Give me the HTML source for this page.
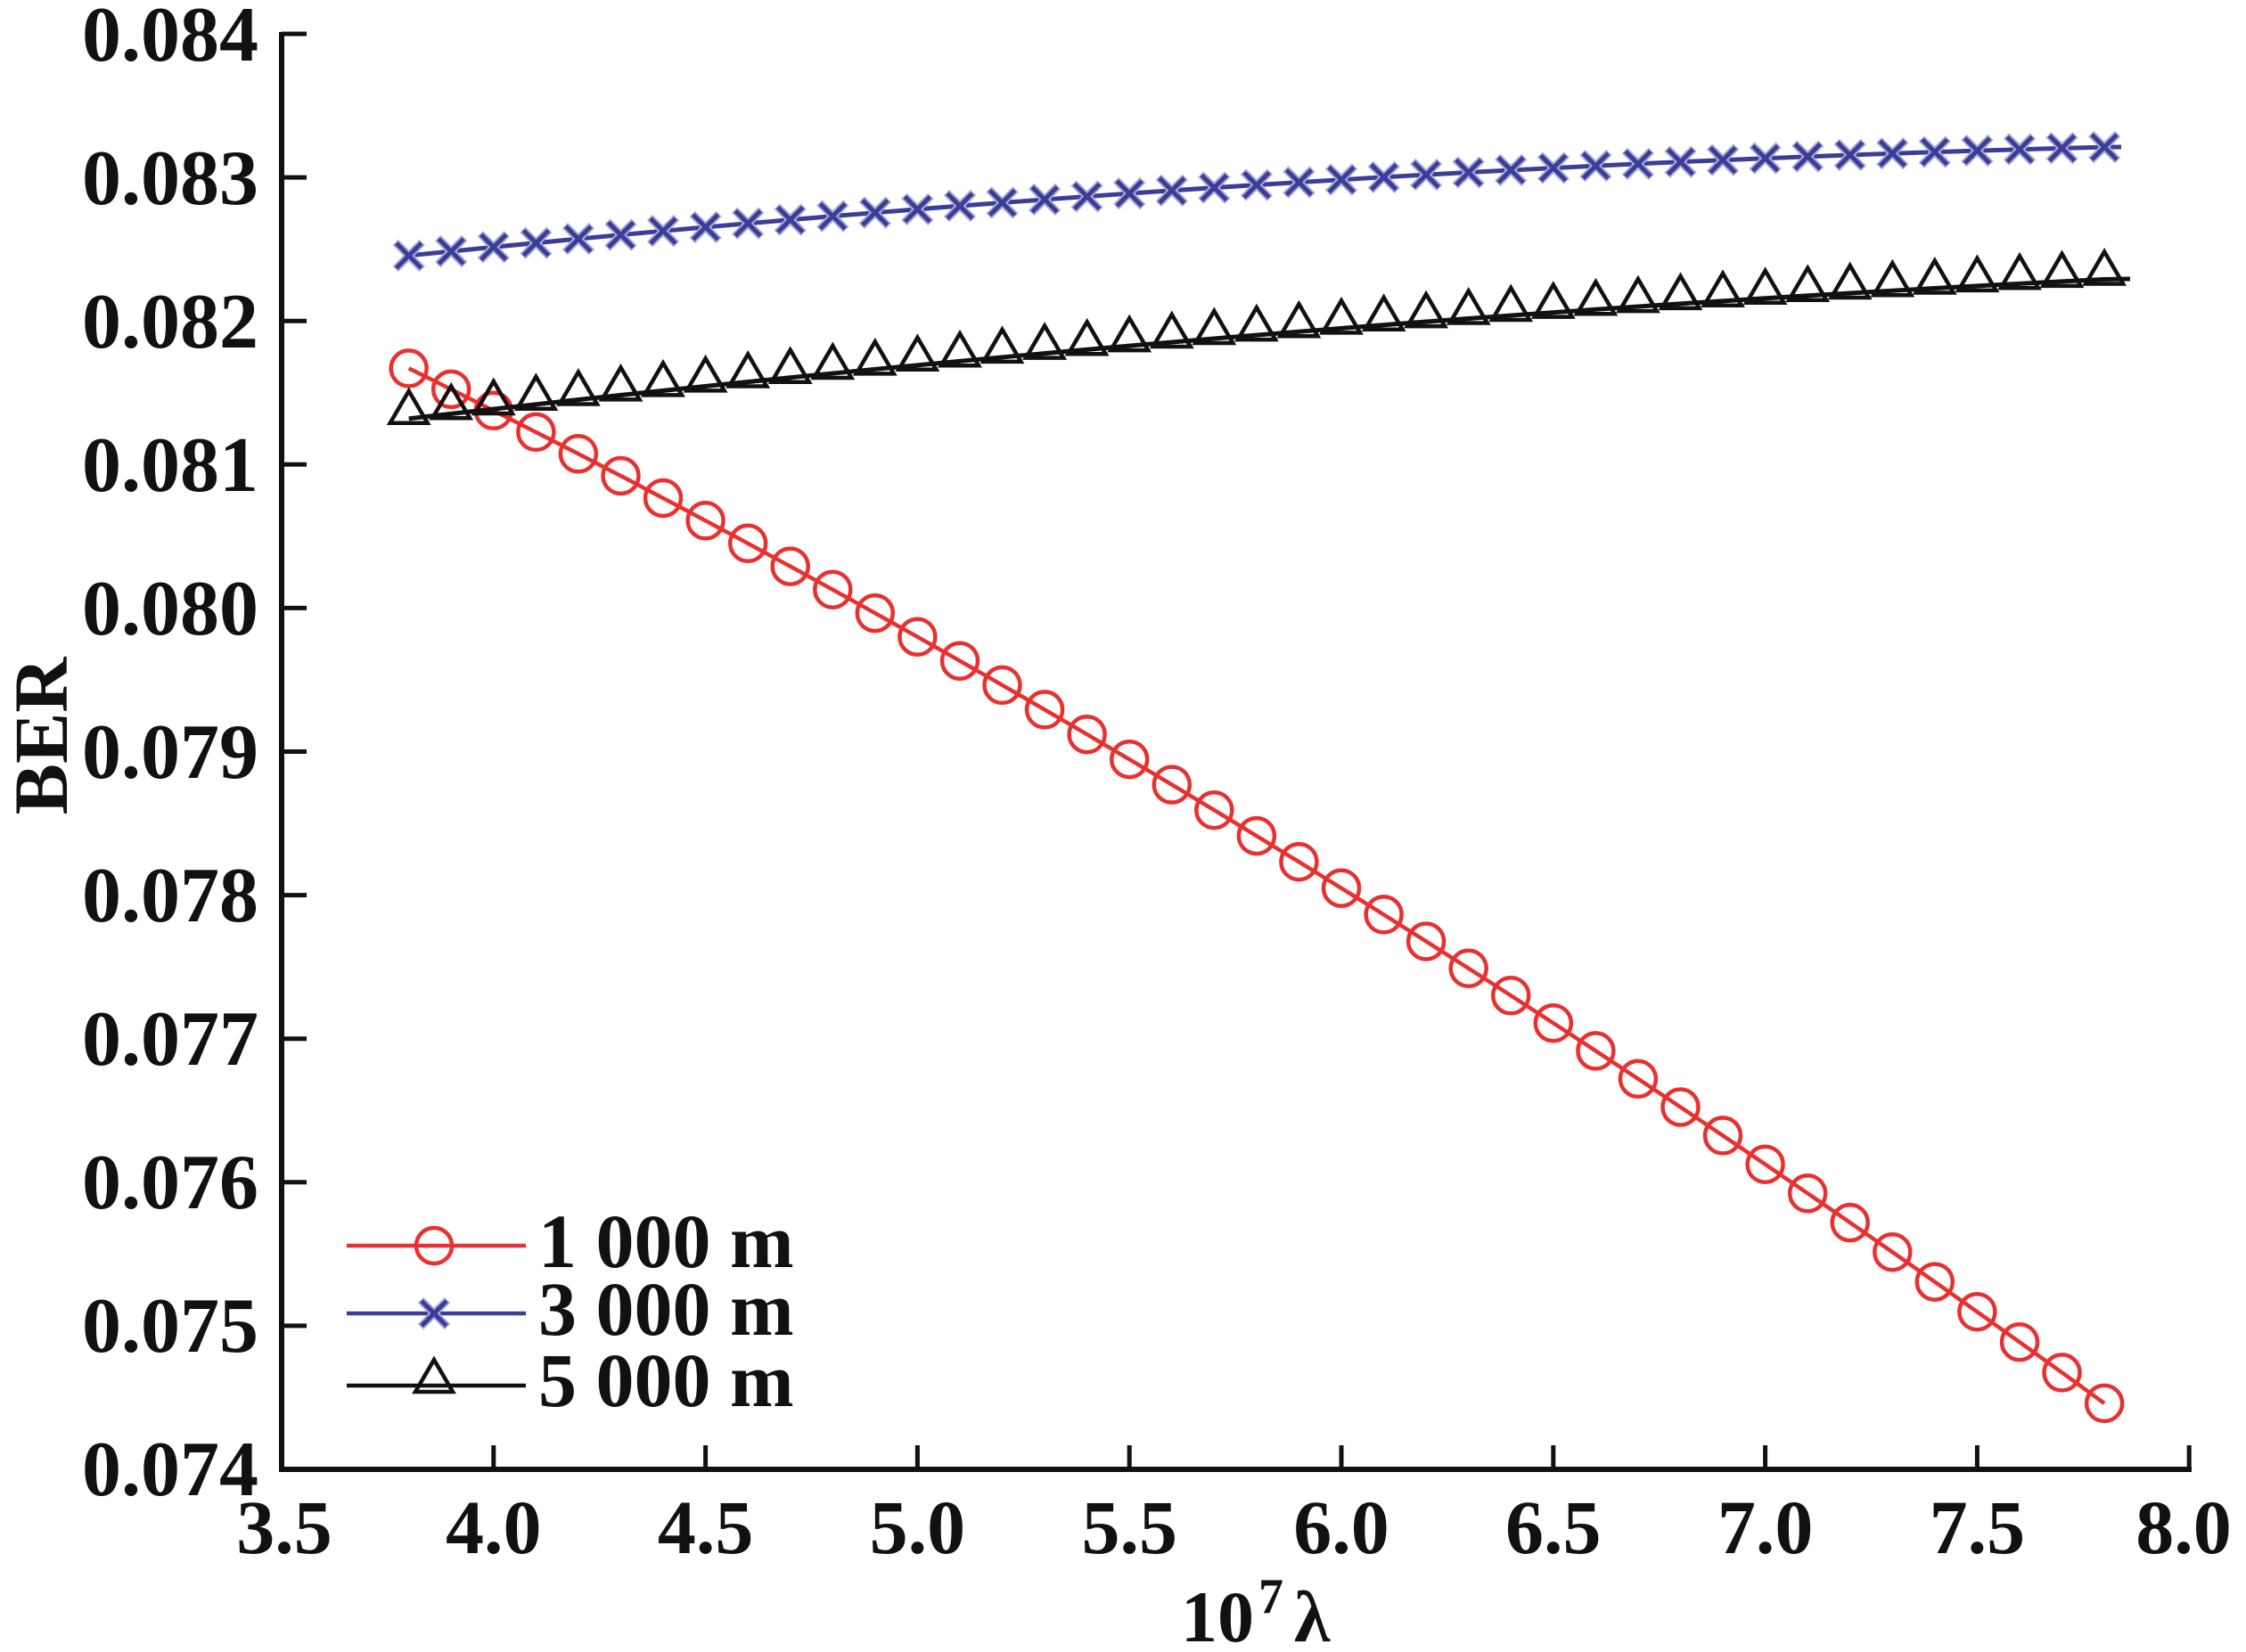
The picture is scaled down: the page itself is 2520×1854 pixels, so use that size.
<!DOCTYPE html>
<html>
<head>
<meta charset="utf-8">
<style>
html,body{margin:0;padding:0;background:#fff;}
svg{display:block;}
.t{font-family:"Liberation Serif","DejaVu Serif",serif;font-weight:bold;font-size:86px;fill:#111;}
.y{font-size:88px;}
</style>
</head>
<body>
<svg width="2520" height="1854" viewBox="0 0 2520 1854" xmlns="http://www.w3.org/2000/svg">
<defs>
<circle id="mc" r="20" fill="none" stroke="#e8312f" stroke-width="4.5"/>
<g id="mx"><path d="M-15,-15L15,15M-15,15L15,-15" stroke="#aaabd8" stroke-width="9" fill="none"/><path d="M-14,-14L14,14M-14,14L14,-14" stroke="#3b3e96" stroke-width="5" fill="none"/></g>
<path id="mt" d="M0,-31L21,5L-21,5Z" fill="none" stroke="#111" stroke-width="4.5"/>
</defs>

<!-- axes -->
<path d="M316,36V1649H2459" fill="none" stroke="#111" stroke-width="6"/>
<g stroke="#111" stroke-width="5">
<path d="M316,38H344M316,199.1H344M316,360.2H344M316,521.3H344M316,682.4H344M316,843.5H344M316,1004.6H344M316,1165.7H344M316,1326.8H344M316,1487.9H344"/>
<path d="M553.8,1649V1622M791.6,1649V1622M1029.4,1649V1622M1267.2,1649V1622M1505,1649V1622M1742.8,1649V1622M1980.6,1649V1622M2218.4,1649V1622M2456.2,1649V1622"/>
</g>

<!-- y tick labels -->
<g class="t y" text-anchor="end">
<text x="290" y="68">0.084</text>
<text x="290" y="229">0.083</text>
<text x="290" y="390">0.082</text>
<text x="290" y="551">0.081</text>
<text x="290" y="712">0.080</text>
<text x="290" y="873">0.079</text>
<text x="290" y="1034">0.078</text>
<text x="290" y="1195">0.077</text>
<text x="290" y="1356">0.076</text>
<text x="290" y="1517">0.075</text>
<text x="290" y="1678">0.074</text>
</g>

<!-- x tick labels -->
<g class="t" text-anchor="middle">
<text x="319" y="1743">3.5</text>
<text x="553.8" y="1743">4.0</text>
<text x="791.6" y="1743">4.5</text>
<text x="1029.4" y="1743">5.0</text>
<text x="1267.2" y="1743">5.5</text>
<text x="1505" y="1743">6.0</text>
<text x="1742.8" y="1743">6.5</text>
<text x="1980.6" y="1743">7.0</text>
<text x="2218.4" y="1743">7.5</text>
<text x="2450" y="1743">8.0</text>
</g>

<!-- axis titles -->
<text class="t" text-anchor="middle" transform="translate(75,826) rotate(-90)">BER</text>
<text class="t" x="1325" y="1842" style="font-size:82px">10</text>
<text class="t" x="1412" y="1810" style="font-size:56px">7</text>
<text class="t" x="1452" y="1842" style="font-size:82px">λ</text>

<!-- red series 1000 m -->
<path d="M458.7,413.4 Q1409.9,882.0 2361.1,1574.9" fill="none" stroke="#e8312f" stroke-width="4.5"/>
<g>
<use href="#mc" x="458.7" y="413.4"/><use href="#mc" x="506.2" y="436.9"/><use href="#mc" x="553.8" y="460.8"/><use href="#mc" x="601.4" y="484.9"/><use href="#mc" x="648.9" y="509.3"/><use href="#mc" x="696.5" y="534.0"/><use href="#mc" x="744.0" y="559.0"/><use href="#mc" x="791.6" y="584.3"/><use href="#mc" x="839.2" y="609.8"/><use href="#mc" x="886.7" y="635.6"/><use href="#mc" x="934.3" y="661.7"/><use href="#mc" x="981.8" y="688.1"/><use href="#mc" x="1029.4" y="714.7"/><use href="#mc" x="1077.0" y="741.7"/><use href="#mc" x="1124.5" y="768.9"/><use href="#mc" x="1172.1" y="796.4"/><use href="#mc" x="1219.6" y="824.2"/><use href="#mc" x="1267.2" y="852.2"/><use href="#mc" x="1314.8" y="880.6"/><use href="#mc" x="1362.3" y="909.2"/><use href="#mc" x="1409.9" y="938.1"/><use href="#mc" x="1457.4" y="967.2"/><use href="#mc" x="1505.0" y="996.7"/><use href="#mc" x="1552.6" y="1026.4"/><use href="#mc" x="1600.1" y="1056.5"/><use href="#mc" x="1647.7" y="1086.8"/><use href="#mc" x="1695.2" y="1117.3"/><use href="#mc" x="1742.8" y="1148.2"/><use href="#mc" x="1790.4" y="1179.4"/><use href="#mc" x="1837.9" y="1210.8"/><use href="#mc" x="1885.5" y="1242.5"/><use href="#mc" x="1933.0" y="1274.4"/><use href="#mc" x="1980.6" y="1306.7"/><use href="#mc" x="2028.2" y="1339.3"/><use href="#mc" x="2075.7" y="1372.1"/><use href="#mc" x="2123.3" y="1405.2"/><use href="#mc" x="2170.8" y="1438.6"/><use href="#mc" x="2218.4" y="1472.2"/><use href="#mc" x="2266.0" y="1506.2"/><use href="#mc" x="2313.5" y="1540.4"/><use href="#mc" x="2361.1" y="1574.9"/>
</g>

<!-- blue series 3000 m -->
<path d="M458.7,286.9 Q1409.9,189.1 2361.1,165.1 L2380,165" fill="none" stroke="#3b3e96" stroke-width="5"/>
<g>
<use href="#mx" x="458.7" y="286.9"/><use href="#mx" x="506.2" y="282.1"/><use href="#mx" x="553.8" y="277.3"/><use href="#mx" x="601.4" y="272.7"/><use href="#mx" x="648.9" y="268.1"/><use href="#mx" x="696.5" y="263.6"/><use href="#mx" x="744.0" y="259.2"/><use href="#mx" x="791.6" y="254.9"/><use href="#mx" x="839.2" y="250.7"/><use href="#mx" x="886.7" y="246.6"/><use href="#mx" x="934.3" y="242.6"/><use href="#mx" x="981.8" y="238.7"/><use href="#mx" x="1029.4" y="234.9"/><use href="#mx" x="1077.0" y="231.1"/><use href="#mx" x="1124.5" y="227.5"/><use href="#mx" x="1172.1" y="223.9"/><use href="#mx" x="1219.6" y="220.5"/><use href="#mx" x="1267.2" y="217.1"/><use href="#mx" x="1314.8" y="213.8"/><use href="#mx" x="1362.3" y="210.6"/><use href="#mx" x="1409.9" y="207.6"/><use href="#mx" x="1457.4" y="204.6"/><use href="#mx" x="1505.0" y="201.6"/><use href="#mx" x="1552.6" y="198.8"/><use href="#mx" x="1600.1" y="196.1"/><use href="#mx" x="1647.7" y="193.5"/><use href="#mx" x="1695.2" y="190.9"/><use href="#mx" x="1742.8" y="188.5"/><use href="#mx" x="1790.4" y="186.1"/><use href="#mx" x="1837.9" y="183.9"/><use href="#mx" x="1885.5" y="181.7"/><use href="#mx" x="1933.0" y="179.6"/><use href="#mx" x="1980.6" y="177.6"/><use href="#mx" x="2028.2" y="175.7"/><use href="#mx" x="2075.7" y="173.9"/><use href="#mx" x="2123.3" y="172.2"/><use href="#mx" x="2170.8" y="170.6"/><use href="#mx" x="2218.4" y="169.1"/><use href="#mx" x="2266.0" y="167.6"/><use href="#mx" x="2313.5" y="166.3"/><use href="#mx" x="2361.1" y="165.1"/>
</g>

<!-- black series 5000 m -->
<path d="M458.7,469.8 Q1409.9,360.5 2361.1,313.5 L2390,313" fill="none" stroke="#111" stroke-width="5"/>
<g>
<use href="#mt" x="458.7" y="469.8"/><use href="#mt" x="506.2" y="464.3"/><use href="#mt" x="553.8" y="459.0"/><use href="#mt" x="601.4" y="453.7"/><use href="#mt" x="648.9" y="448.5"/><use href="#mt" x="696.5" y="443.4"/><use href="#mt" x="744.0" y="438.4"/><use href="#mt" x="791.6" y="433.4"/><use href="#mt" x="839.2" y="428.5"/><use href="#mt" x="886.7" y="423.7"/><use href="#mt" x="934.3" y="419.0"/><use href="#mt" x="981.8" y="414.4"/><use href="#mt" x="1029.4" y="409.8"/><use href="#mt" x="1077.0" y="405.3"/><use href="#mt" x="1124.5" y="400.9"/><use href="#mt" x="1172.1" y="396.6"/><use href="#mt" x="1219.6" y="392.3"/><use href="#mt" x="1267.2" y="388.1"/><use href="#mt" x="1314.8" y="384.0"/><use href="#mt" x="1362.3" y="380.0"/><use href="#mt" x="1409.9" y="376.1"/><use href="#mt" x="1457.4" y="372.2"/><use href="#mt" x="1505.0" y="368.4"/><use href="#mt" x="1552.6" y="364.7"/><use href="#mt" x="1600.1" y="361.1"/><use href="#mt" x="1647.7" y="357.5"/><use href="#mt" x="1695.2" y="354.0"/><use href="#mt" x="1742.8" y="350.6"/><use href="#mt" x="1790.4" y="347.3"/><use href="#mt" x="1837.9" y="344.1"/><use href="#mt" x="1885.5" y="340.9"/><use href="#mt" x="1933.0" y="337.8"/><use href="#mt" x="1980.6" y="334.8"/><use href="#mt" x="2028.2" y="331.8"/><use href="#mt" x="2075.7" y="329.0"/><use href="#mt" x="2123.3" y="326.2"/><use href="#mt" x="2170.8" y="323.5"/><use href="#mt" x="2218.4" y="320.9"/><use href="#mt" x="2266.0" y="318.3"/><use href="#mt" x="2313.5" y="315.9"/><use href="#mt" x="2361.1" y="313.5"/>
</g>

<!-- legend -->
<path d="M389,1398H590" stroke="#e8312f" stroke-width="4.5"/>
<use href="#mc" x="487" y="1398"/>
<path d="M389,1474H590" stroke="#3b3e96" stroke-width="4.5"/>
<use href="#mx" x="487" y="1474"/>
<path d="M389,1555H590" stroke="#111" stroke-width="4.5"/>
<use href="#mt" x="487" y="1557"/>
<g class="t">
<text x="604" y="1422">1 000 m</text>
<text x="604" y="1498">3 000 m</text>
<text x="604" y="1578">5 000 m</text>
</g>
</svg>
</body>
</html>
